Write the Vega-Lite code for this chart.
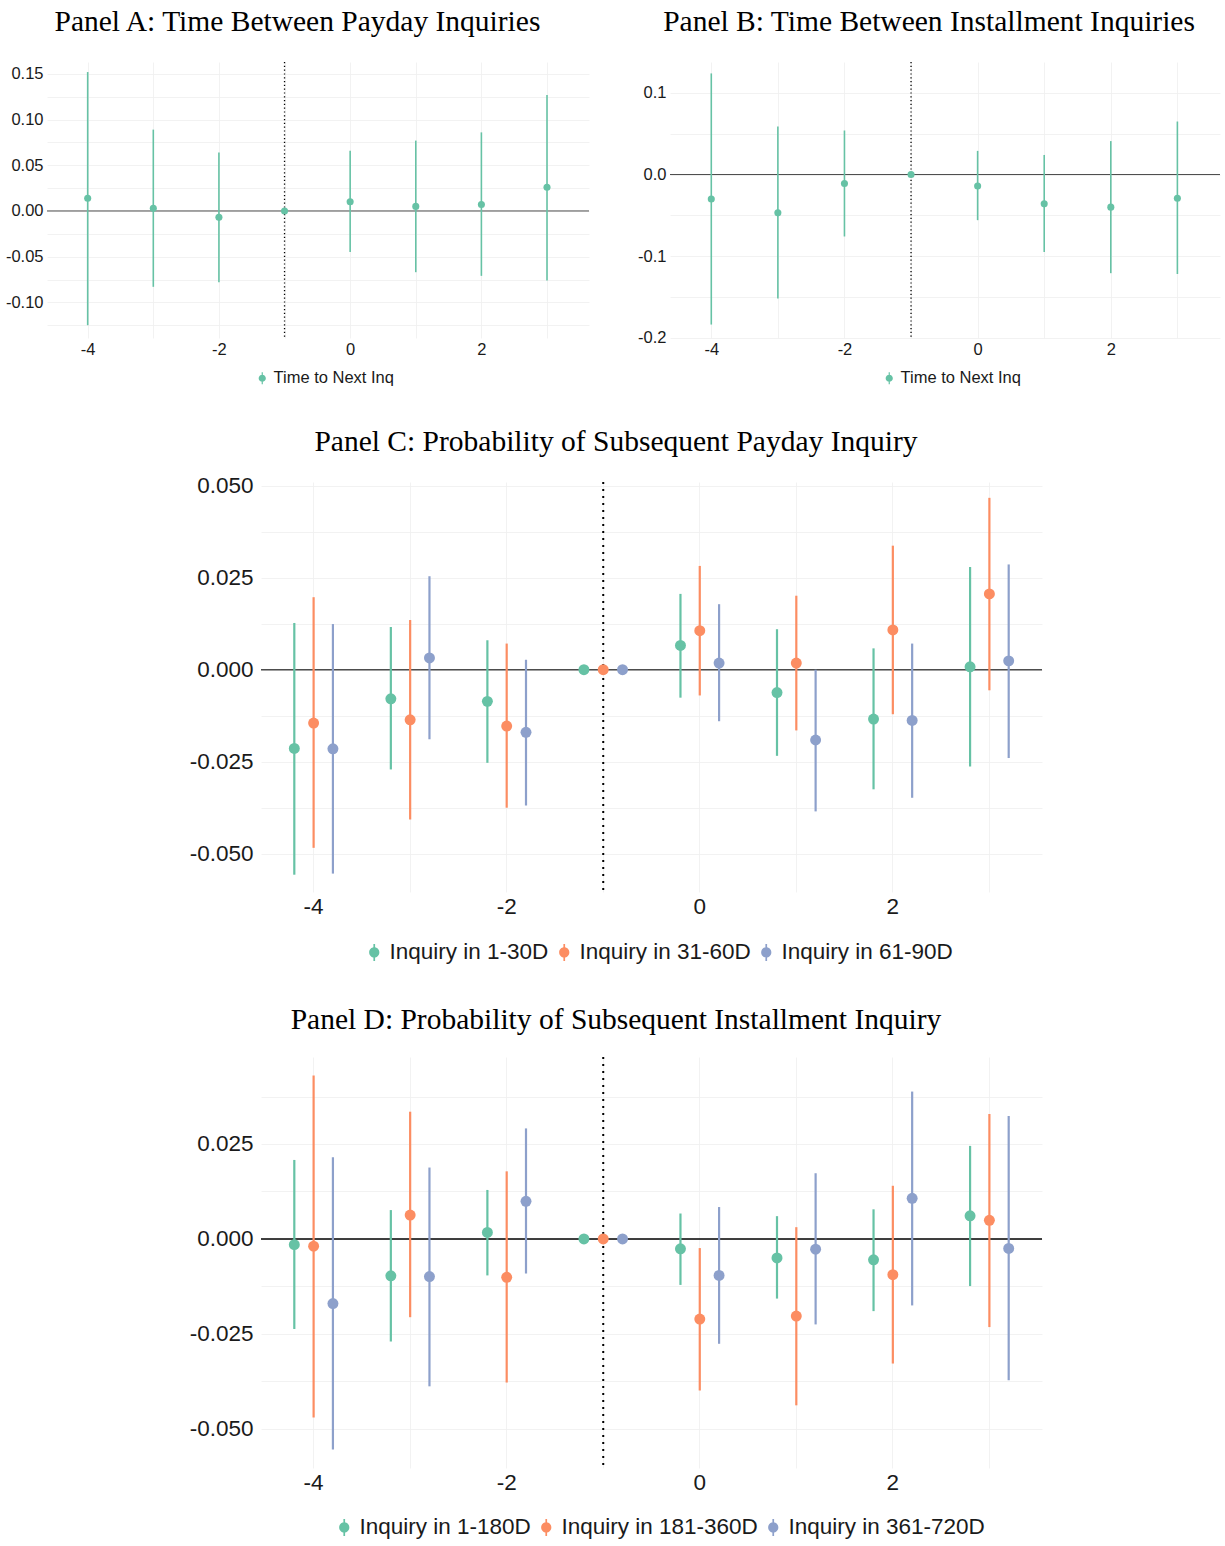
{
  "$schema": "https://vega.github.io/schema/vega-lite/v6.json",
  "background": "white",
  "padding": {"left": 5, "top": 6, "right": 0, "bottom": 0},
  "spacing": 40,
  "center": false,
  "resolve": {"scale": {"x": "independent", "y": "independent", "color": "independent", "stroke": "independent", "xOffset": "independent"}, "legend": {"color": "independent"}, "axis": {"x": "independent", "y": "independent"}},
  "datasets": {
    "a": [
      {"t": -4, "s": "Time to Next Inq", "est": 0.014, "lo": -0.125, "hi": 0.152},
      {"t": -3, "s": "Time to Next Inq", "est": 0.003, "lo": -0.083, "hi": 0.089},
      {"t": -2, "s": "Time to Next Inq", "est": -0.007, "lo": -0.078, "hi": 0.064},
      {"t": -1, "s": "Time to Next Inq", "est": 0.0, "lo": 0.0, "hi": 0.0},
      {"t": 0, "s": "Time to Next Inq", "est": 0.010, "lo": -0.045, "hi": 0.066},
      {"t": 1, "s": "Time to Next Inq", "est": 0.005, "lo": -0.067, "hi": 0.077},
      {"t": 2, "s": "Time to Next Inq", "est": 0.007, "lo": -0.071, "hi": 0.086},
      {"t": 3, "s": "Time to Next Inq", "est": 0.026, "lo": -0.076, "hi": 0.127}
    ],
    "b": [
      {"t": -4, "s": "Time to Next Inq", "est": -0.030, "lo": -0.184, "hi": 0.124},
      {"t": -3, "s": "Time to Next Inq", "est": -0.047, "lo": -0.152, "hi": 0.059},
      {"t": -2, "s": "Time to Next Inq", "est": -0.011, "lo": -0.076, "hi": 0.054},
      {"t": -1, "s": "Time to Next Inq", "est": 0.0, "lo": 0.0, "hi": 0.0},
      {"t": 0, "s": "Time to Next Inq", "est": -0.014, "lo": -0.056, "hi": 0.029},
      {"t": 1, "s": "Time to Next Inq", "est": -0.036, "lo": -0.095, "hi": 0.024},
      {"t": 2, "s": "Time to Next Inq", "est": -0.040, "lo": -0.121, "hi": 0.041},
      {"t": 3, "s": "Time to Next Inq", "est": -0.029, "lo": -0.122, "hi": 0.065}
    ],
    "c": [
      {"t": -4, "s": "Inquiry in 1-30D", "est": -0.0214, "lo": -0.0557, "hi": 0.0127},
      {"t": -4, "s": "Inquiry in 31-60D", "est": -0.0145, "lo": -0.0484, "hi": 0.0197},
      {"t": -4, "s": "Inquiry in 61-90D", "est": -0.0215, "lo": -0.0554, "hi": 0.0124},
      {"t": -3, "s": "Inquiry in 1-30D", "est": -0.0079, "lo": -0.0271, "hi": 0.0116},
      {"t": -3, "s": "Inquiry in 31-60D", "est": -0.0136, "lo": -0.0407, "hi": 0.0135},
      {"t": -3, "s": "Inquiry in 61-90D", "est": 0.0032, "lo": -0.0189, "hi": 0.0254},
      {"t": -2, "s": "Inquiry in 1-30D", "est": -0.0086, "lo": -0.0253, "hi": 0.0080},
      {"t": -2, "s": "Inquiry in 31-60D", "est": -0.0153, "lo": -0.0375, "hi": 0.0071},
      {"t": -2, "s": "Inquiry in 61-90D", "est": -0.0170, "lo": -0.0369, "hi": 0.0027},
      {"t": -1, "s": "Inquiry in 1-30D", "est": 0.0, "lo": 0.0, "hi": 0.0},
      {"t": -1, "s": "Inquiry in 31-60D", "est": 0.0, "lo": 0.0, "hi": 0.0},
      {"t": -1, "s": "Inquiry in 61-90D", "est": 0.0, "lo": 0.0, "hi": 0.0},
      {"t": 0, "s": "Inquiry in 1-30D", "est": 0.0066, "lo": -0.0076, "hi": 0.0206},
      {"t": 0, "s": "Inquiry in 31-60D", "est": 0.0106, "lo": -0.0070, "hi": 0.0282},
      {"t": 0, "s": "Inquiry in 61-90D", "est": 0.0018, "lo": -0.0140, "hi": 0.0178},
      {"t": 1, "s": "Inquiry in 1-30D", "est": -0.0062, "lo": -0.0234, "hi": 0.0110},
      {"t": 1, "s": "Inquiry in 31-60D", "est": 0.0018, "lo": -0.0165, "hi": 0.0201},
      {"t": 1, "s": "Inquiry in 61-90D", "est": -0.0191, "lo": -0.0385, "hi": 0.0000},
      {"t": 2, "s": "Inquiry in 1-30D", "est": -0.0134, "lo": -0.0325, "hi": 0.0058},
      {"t": 2, "s": "Inquiry in 31-60D", "est": 0.0108, "lo": -0.0121, "hi": 0.0337},
      {"t": 2, "s": "Inquiry in 61-90D", "est": -0.0138, "lo": -0.0348, "hi": 0.0071},
      {"t": 3, "s": "Inquiry in 1-30D", "est": 0.0008, "lo": -0.0263, "hi": 0.0279},
      {"t": 3, "s": "Inquiry in 31-60D", "est": 0.0206, "lo": -0.0056, "hi": 0.0467},
      {"t": 3, "s": "Inquiry in 61-90D", "est": 0.0024, "lo": -0.0240, "hi": 0.0286}
    ],
    "d": [
      {"t": -4, "s": "Inquiry in 1-180D", "est": -0.0015, "lo": -0.0237, "hi": 0.0208},
      {"t": -4, "s": "Inquiry in 181-360D", "est": -0.0019, "lo": -0.0470, "hi": 0.0430},
      {"t": -4, "s": "Inquiry in 361-720D", "est": -0.0170, "lo": -0.0554, "hi": 0.0215},
      {"t": -3, "s": "Inquiry in 1-180D", "est": -0.0097, "lo": -0.0270, "hi": 0.0076},
      {"t": -3, "s": "Inquiry in 181-360D", "est": 0.0063, "lo": -0.0206, "hi": 0.0335},
      {"t": -3, "s": "Inquiry in 361-720D", "est": -0.0099, "lo": -0.0388, "hi": 0.0188},
      {"t": -2, "s": "Inquiry in 1-180D", "est": 0.0017, "lo": -0.0096, "hi": 0.0129},
      {"t": -2, "s": "Inquiry in 181-360D", "est": -0.0101, "lo": -0.0378, "hi": 0.0178},
      {"t": -2, "s": "Inquiry in 361-720D", "est": 0.0099, "lo": -0.0091, "hi": 0.0291},
      {"t": -1, "s": "Inquiry in 1-180D", "est": 0.0, "lo": 0.0, "hi": 0.0},
      {"t": -1, "s": "Inquiry in 181-360D", "est": 0.0, "lo": 0.0, "hi": 0.0},
      {"t": -1, "s": "Inquiry in 361-720D", "est": 0.0, "lo": 0.0, "hi": 0.0},
      {"t": 0, "s": "Inquiry in 1-180D", "est": -0.0026, "lo": -0.0121, "hi": 0.0067},
      {"t": 0, "s": "Inquiry in 181-360D", "est": -0.0211, "lo": -0.0399, "hi": -0.0024},
      {"t": 0, "s": "Inquiry in 361-720D", "est": -0.0096, "lo": -0.0276, "hi": 0.0084},
      {"t": 1, "s": "Inquiry in 1-180D", "est": -0.0050, "lo": -0.0157, "hi": 0.0060},
      {"t": 1, "s": "Inquiry in 181-360D", "est": -0.0203, "lo": -0.0438, "hi": 0.0031},
      {"t": 1, "s": "Inquiry in 361-720D", "est": -0.0027, "lo": -0.0225, "hi": 0.0173},
      {"t": 2, "s": "Inquiry in 1-180D", "est": -0.0055, "lo": -0.0190, "hi": 0.0078},
      {"t": 2, "s": "Inquiry in 181-360D", "est": -0.0094, "lo": -0.0328, "hi": 0.0140},
      {"t": 2, "s": "Inquiry in 361-720D", "est": 0.0107, "lo": -0.0175, "hi": 0.0388},
      {"t": 3, "s": "Inquiry in 1-180D", "est": 0.0061, "lo": -0.0124, "hi": 0.0245},
      {"t": 3, "s": "Inquiry in 181-360D", "est": 0.0049, "lo": -0.0232, "hi": 0.0329},
      {"t": 3, "s": "Inquiry in 361-720D", "est": -0.0025, "lo": -0.0372, "hi": 0.0324}
    ]
  },
  "vconcat": [
    {
      "spacing": 47,
      "resolve": {"scale": {"x": "independent", "y": "independent", "color": "independent"}, "legend": {"color": "independent"}, "axis": {"x": "independent", "y": "independent"}},
      "hconcat": [
        {
          "title": {"text": "Panel A: Time Between Payday Inquiries"},
          "width": 542,
          "height": 276,
          "layer": [
            {
              "data": {"values": [{}]},
              "mark": {"type": "rule", "color": "#4D4D4D", "strokeWidth": 1},
              "encoding": {"y": {"datum": 0, "type": "quantitative", "scale": {"domain": [-0.139, 0.163], "nice": false, "zero": false}, "axis": {"title": null, "values": [-0.125, -0.1, -0.075, -0.05, -0.025, 0, 0.025, 0.05, 0.075, 0.1, 0.125, 0.15], "labelExpr": "abs(datum.value*20 - round(datum.value*20)) < 0.001 ? replace(format(datum.value, '.2f'), '\u2212', '-') : ''", "labelFontSize": 16.5, "labelPadding": 4}}}
            },
            {
              "data": {"values": [{}]},
              "mark": {"type": "rule", "color": "#000000", "strokeWidth": 1.3, "strokeDash": [1.2, 2.6]},
              "encoding": {"x": {"datum": -1, "type": "quantitative", "scale": {"domain": [-4.62, 3.64], "nice": false, "zero": false}, "axis": {"title": null, "values": [-4, -3, -2, -1, 0, 1, 2, 3], "labelExpr": "datum.value % 2 == 0 ? replace(format(datum.value, 'd'), '\u2212', '-') : ''", "labelFontSize": 16.5, "labelPadding": 3}}}
            },
            {
              "data": {"name": "a"},
              "mark": {"type": "rule", "strokeWidth": 1.6, "color": "#66C2A5"},
              "encoding": {
                "x": {"field": "t", "type": "quantitative", "scale": {"domain": [-4.62, 3.64], "nice": false, "zero": false}, "axis": {"title": null, "values": [-4, -3, -2, -1, 0, 1, 2, 3], "labelExpr": "datum.value % 2 == 0 ? replace(format(datum.value, 'd'), '\u2212', '-') : ''", "labelFontSize": 16.5, "labelPadding": 3}},
                "y": {"field": "lo", "type": "quantitative", "scale": {"domain": [-0.139, 0.163], "nice": false, "zero": false}, "axis": {"title": null, "values": [-0.125, -0.1, -0.075, -0.05, -0.025, 0, 0.025, 0.05, 0.075, 0.1, 0.125, 0.15], "labelExpr": "abs(datum.value*20 - round(datum.value*20)) < 0.001 ? replace(format(datum.value, '.2f'), '\u2212', '-') : ''", "labelFontSize": 16.5, "labelPadding": 4}},
                "y2": {"field": "hi"}
              }
            },
            {
              "data": {"name": "a"},
              "mark": {"type": "point", "filled": true, "opacity": 1, "size": 50},
              "encoding": {
                "x": {"field": "t", "type": "quantitative", "scale": {"domain": [-4.62, 3.64], "nice": false, "zero": false}, "axis": {"title": null, "values": [-4, -3, -2, -1, 0, 1, 2, 3], "labelExpr": "datum.value % 2 == 0 ? replace(format(datum.value, 'd'), '\u2212', '-') : ''", "labelFontSize": 16.5, "labelPadding": 3}},
                "y": {"field": "est", "type": "quantitative", "scale": {"domain": [-0.139, 0.163], "nice": false, "zero": false}, "axis": {"title": null, "values": [-0.125, -0.1, -0.075, -0.05, -0.025, 0, 0.025, 0.05, 0.075, 0.1, 0.125, 0.15], "labelExpr": "abs(datum.value*20 - round(datum.value*20)) < 0.001 ? replace(format(datum.value, '.2f'), '\u2212', '-') : ''", "labelFontSize": 16.5, "labelPadding": 4}},
                "color": {"field": "s", "type": "nominal", "scale": {"domain": ["Time to Next Inq"], "range": ["#66C2A5"]}, "legend": {"title": null, "orient": "none", "legendX": 207, "legendY": 308, "direction": "horizontal", "labelFontSize": 16.5, "labelLimit": 0, "labelOffset": 3, "padding": 0, "symbolSize": 144, "symbolStrokeWidth": 0, "symbolOpacity": 1, "symbolType": "M-0.1,-1H0.1V1H-0.1Z M0.6,0A0.6,0.6 0 1,1 -0.6,0A0.6,0.6 0 1,1 0.6,0Z"}}
              }
            }
          ]
        },
        {
          "title": {"text": "Panel B: Time Between Installment Inquiries"},
          "width": 550,
          "height": 276,
          "layer": [
            {
              "data": {"values": [{}]},
              "mark": {"type": "rule", "color": "#4D4D4D", "strokeWidth": 1},
              "encoding": {"y": {"datum": 0, "type": "quantitative", "scale": {"domain": [-0.2005, 0.138], "nice": false, "zero": false}, "axis": {"title": null, "values": [-0.2, -0.15, -0.1, -0.05, 0, 0.05, 0.1], "labelExpr": "abs(datum.value*10 - round(datum.value*10)) < 0.001 ? replace(format(datum.value, '.1f'), '\u2212', '-') : ''", "labelFontSize": 16.5, "labelPadding": 4}}}
            },
            {
              "data": {"values": [{}]},
              "mark": {"type": "rule", "color": "#000000", "strokeWidth": 1.3, "strokeDash": [1.2, 2.6]},
              "encoding": {"x": {"datum": -1, "type": "quantitative", "scale": {"domain": [-4.62, 3.64], "nice": false, "zero": false}, "axis": {"title": null, "values": [-4, -3, -2, -1, 0, 1, 2, 3], "labelExpr": "datum.value % 2 == 0 ? replace(format(datum.value, 'd'), '\u2212', '-') : ''", "labelFontSize": 16.5, "labelPadding": 3}}}
            },
            {
              "data": {"name": "b"},
              "mark": {"type": "rule", "strokeWidth": 1.6, "color": "#66C2A5"},
              "encoding": {
                "x": {"field": "t", "type": "quantitative", "scale": {"domain": [-4.62, 3.64], "nice": false, "zero": false}, "axis": {"title": null, "values": [-4, -3, -2, -1, 0, 1, 2, 3], "labelExpr": "datum.value % 2 == 0 ? replace(format(datum.value, 'd'), '\u2212', '-') : ''", "labelFontSize": 16.5, "labelPadding": 3}},
                "y": {"field": "lo", "type": "quantitative", "scale": {"domain": [-0.2005, 0.138], "nice": false, "zero": false}, "axis": {"title": null, "values": [-0.2, -0.15, -0.1, -0.05, 0, 0.05, 0.1], "labelExpr": "abs(datum.value*10 - round(datum.value*10)) < 0.001 ? replace(format(datum.value, '.1f'), '\u2212', '-') : ''", "labelFontSize": 16.5, "labelPadding": 4}},
                "y2": {"field": "hi"}
              }
            },
            {
              "data": {"name": "b"},
              "mark": {"type": "point", "filled": true, "opacity": 1, "size": 50},
              "encoding": {
                "x": {"field": "t", "type": "quantitative", "scale": {"domain": [-4.62, 3.64], "nice": false, "zero": false}, "axis": {"title": null, "values": [-4, -3, -2, -1, 0, 1, 2, 3], "labelExpr": "datum.value % 2 == 0 ? replace(format(datum.value, 'd'), '\u2212', '-') : ''", "labelFontSize": 16.5, "labelPadding": 3}},
                "y": {"field": "est", "type": "quantitative", "scale": {"domain": [-0.2005, 0.138], "nice": false, "zero": false}, "axis": {"title": null, "values": [-0.2, -0.15, -0.1, -0.05, 0, 0.05, 0.1], "labelExpr": "abs(datum.value*10 - round(datum.value*10)) < 0.001 ? replace(format(datum.value, '.1f'), '\u2212', '-') : ''", "labelFontSize": 16.5, "labelPadding": 4}},
                "color": {"field": "s", "type": "nominal", "scale": {"domain": ["Time to Next Inq"], "range": ["#66C2A5"]}, "legend": {"title": null, "orient": "none", "legendX": 211, "legendY": 308, "direction": "horizontal", "labelFontSize": 16.5, "labelLimit": 0, "labelOffset": 3, "padding": 0, "symbolSize": 144, "symbolStrokeWidth": 0, "symbolOpacity": 1, "symbolType": "M-0.1,-1H0.1V1H-0.1Z M0.6,0A0.6,0.6 0 1,1 -0.6,0A0.6,0.6 0 1,1 0.6,0Z"}}
              }
            }
          ]
        }
      ]
    },
    {
      "spacing": 140,
      "resolve": {"scale": {"x": "independent", "y": "independent", "color": "independent", "stroke": "independent", "xOffset": "independent"}, "legend": {"color": "independent"}, "axis": {"x": "independent", "y": "independent"}},
      "hconcat": [
        {"width": 2, "height": 1, "data": {"values": []}, "mark": "point"},
        {
          "title": {"text": "Panel C: Probability of Subsequent Payday Inquiry", "offset": 17},
          "width": 781,
          "height": 410,
          "layer": [
            {
              "data": {"values": [{}]},
              "mark": {"type": "rule", "color": "#4D4D4D", "strokeWidth": 1.4},
              "encoding": {"y": {"datum": 0, "type": "quantitative", "scale": {"domain": [-0.0604, 0.051], "nice": false, "zero": false}, "axis": {"title": null, "values": [-0.05, -0.0375, -0.025, -0.0125, 0, 0.0125, 0.025, 0.0375, 0.05], "labelExpr": "abs(datum.value*40 - round(datum.value*40)) < 0.001 ? replace(format(datum.value, '.3f'), '\u2212', '-') : ''", "labelFontSize": 22.5, "labelPadding": 8}}}
            },
            {
              "data": {"values": [{}]},
              "mark": {"type": "rule", "color": "#000000", "strokeWidth": 2, "strokeDash": [2, 5]},
              "encoding": {"x": {"datum": -1, "type": "ordinal", "scale": {"type": "band", "domain": [-4, -3, -2, -1, 0, 1, 2, 3], "paddingInner": 0, "paddingOuter": 0.045}, "axis": {"title": null, "values": [-4, -3, -2, -1, 0, 1, 2, 3], "labelExpr": "datum.value % 2 == 0 ? datum.label : ''", "labelFontSize": 22.5, "labelPadding": 3, "labelAngle": 0, "bandPosition": 0.5, "grid": true}}}
            },
            {
              "data": {"name": "c"},
              "mark": {"type": "rule", "strokeWidth": 2.2},
              "encoding": {
                "x": {"field": "t", "type": "ordinal", "scale": {"type": "band", "domain": [-4, -3, -2, -1, 0, 1, 2, 3], "paddingInner": 0, "paddingOuter": 0.045}, "axis": {"title": null, "values": [-4, -3, -2, -1, 0, 1, 2, 3], "labelExpr": "datum.value % 2 == 0 ? datum.label : ''", "labelFontSize": 22.5, "labelPadding": 3, "labelAngle": 0, "bandPosition": 0.5, "grid": true}},
                "xOffset": {"field": "s", "type": "nominal", "scale": {"domain": ["Inquiry in 1-30D", "Inquiry in 31-60D", "Inquiry in 61-90D"], "paddingInner": 0, "paddingOuter": 1.5}},
                "y": {"field": "lo", "type": "quantitative", "scale": {"domain": [-0.0604, 0.051], "nice": false, "zero": false}, "axis": {"title": null, "values": [-0.05, -0.0375, -0.025, -0.0125, 0, 0.0125, 0.025, 0.0375, 0.05], "labelExpr": "abs(datum.value*40 - round(datum.value*40)) < 0.001 ? replace(format(datum.value, '.3f'), '\u2212', '-') : ''", "labelFontSize": 22.5, "labelPadding": 8}},
                "y2": {"field": "hi"},
                "stroke": {"field": "s", "type": "nominal", "scale": {"domain": ["Inquiry in 61-90D", "Inquiry in 31-60D", "Inquiry in 1-30D"], "range": ["#8DA0CB", "#FC8D62", "#66C2A5"]}, "legend": null}
              }
            },
            {
              "data": {"name": "c"},
              "mark": {"type": "point", "filled": true, "opacity": 1, "size": 120},
              "encoding": {
                "x": {"field": "t", "type": "ordinal", "scale": {"type": "band", "domain": [-4, -3, -2, -1, 0, 1, 2, 3], "paddingInner": 0, "paddingOuter": 0.045}, "axis": {"title": null, "values": [-4, -3, -2, -1, 0, 1, 2, 3], "labelExpr": "datum.value % 2 == 0 ? datum.label : ''", "labelFontSize": 22.5, "labelPadding": 3, "labelAngle": 0, "bandPosition": 0.5, "grid": true}},
                "xOffset": {"field": "s", "type": "nominal", "scale": {"domain": ["Inquiry in 1-30D", "Inquiry in 31-60D", "Inquiry in 61-90D"], "paddingInner": 0, "paddingOuter": 1.5}},
                "y": {"field": "est", "type": "quantitative", "scale": {"domain": [-0.0604, 0.051], "nice": false, "zero": false}, "axis": {"title": null, "values": [-0.05, -0.0375, -0.025, -0.0125, 0, 0.0125, 0.025, 0.0375, 0.05], "labelExpr": "abs(datum.value*40 - round(datum.value*40)) < 0.001 ? replace(format(datum.value, '.3f'), '\u2212', '-') : ''", "labelFontSize": 22.5, "labelPadding": 8}},
                "color": {"field": "s", "type": "nominal", "scale": {"domain": ["Inquiry in 1-30D", "Inquiry in 31-60D", "Inquiry in 61-90D"], "range": ["#66C2A5", "#FC8D62", "#8DA0CB"]}, "legend": {"title": null, "orient": "none", "legendX": 102, "legendY": 459, "direction": "horizontal", "labelFontSize": 22.5, "labelLimit": 0, "labelOffset": 4, "columnPadding": 4, "padding": 0, "symbolSize": 289, "symbolStrokeWidth": 0, "symbolOpacity": 1, "symbolType": "M-0.1,-1H0.1V1H-0.1Z M0.6,0A0.6,0.6 0 1,1 -0.6,0A0.6,0.6 0 1,1 0.6,0Z"}}
              }
            }
          ]
        }
      ]
    },
    {
      "spacing": 140,
      "resolve": {"scale": {"x": "independent", "y": "independent", "color": "independent", "stroke": "independent", "xOffset": "independent"}, "legend": {"color": "independent"}, "axis": {"x": "independent", "y": "independent"}},
      "hconcat": [
        {"width": 2, "height": 1, "data": {"values": []}, "mark": "point"},
        {
          "title": {"text": "Panel D: Probability of Subsequent Installment Inquiry", "offset": 21},
          "width": 781,
          "height": 411,
          "layer": [
            {
              "data": {"values": [{}]},
              "mark": {"type": "rule", "color": "#000000", "strokeWidth": 1.4},
              "encoding": {"y": {"datum": 0, "type": "quantitative", "scale": {"domain": [-0.0603, 0.0479], "nice": false, "zero": false}, "axis": {"title": null, "values": [-0.05, -0.0375, -0.025, -0.0125, 0, 0.0125, 0.025, 0.0375], "labelExpr": "abs(datum.value*40 - round(datum.value*40)) < 0.001 ? replace(format(datum.value, '.3f'), '\u2212', '-') : ''", "labelFontSize": 22.5, "labelPadding": 8}}}
            },
            {
              "data": {"values": [{}]},
              "mark": {"type": "rule", "color": "#000000", "strokeWidth": 2, "strokeDash": [2, 5]},
              "encoding": {"x": {"datum": -1, "type": "ordinal", "scale": {"type": "band", "domain": [-4, -3, -2, -1, 0, 1, 2, 3], "paddingInner": 0, "paddingOuter": 0.045}, "axis": {"title": null, "values": [-4, -3, -2, -1, 0, 1, 2, 3], "labelExpr": "datum.value % 2 == 0 ? datum.label : ''", "labelFontSize": 22.5, "labelPadding": 3, "labelAngle": 0, "bandPosition": 0.5, "grid": true}}}
            },
            {
              "data": {"name": "d"},
              "mark": {"type": "rule", "strokeWidth": 2.2},
              "encoding": {
                "x": {"field": "t", "type": "ordinal", "scale": {"type": "band", "domain": [-4, -3, -2, -1, 0, 1, 2, 3], "paddingInner": 0, "paddingOuter": 0.045}, "axis": {"title": null, "values": [-4, -3, -2, -1, 0, 1, 2, 3], "labelExpr": "datum.value % 2 == 0 ? datum.label : ''", "labelFontSize": 22.5, "labelPadding": 3, "labelAngle": 0, "bandPosition": 0.5, "grid": true}},
                "xOffset": {"field": "s", "type": "nominal", "scale": {"domain": ["Inquiry in 1-180D", "Inquiry in 181-360D", "Inquiry in 361-720D"], "paddingInner": 0, "paddingOuter": 1.5}},
                "y": {"field": "lo", "type": "quantitative", "scale": {"domain": [-0.0603, 0.0479], "nice": false, "zero": false}, "axis": {"title": null, "values": [-0.05, -0.0375, -0.025, -0.0125, 0, 0.0125, 0.025, 0.0375], "labelExpr": "abs(datum.value*40 - round(datum.value*40)) < 0.001 ? replace(format(datum.value, '.3f'), '\u2212', '-') : ''", "labelFontSize": 22.5, "labelPadding": 8}},
                "y2": {"field": "hi"},
                "stroke": {"field": "s", "type": "nominal", "scale": {"domain": ["Inquiry in 361-720D", "Inquiry in 181-360D", "Inquiry in 1-180D"], "range": ["#8DA0CB", "#FC8D62", "#66C2A5"]}, "legend": null}
              }
            },
            {
              "data": {"name": "d"},
              "mark": {"type": "point", "filled": true, "opacity": 1, "size": 120},
              "encoding": {
                "x": {"field": "t", "type": "ordinal", "scale": {"type": "band", "domain": [-4, -3, -2, -1, 0, 1, 2, 3], "paddingInner": 0, "paddingOuter": 0.045}, "axis": {"title": null, "values": [-4, -3, -2, -1, 0, 1, 2, 3], "labelExpr": "datum.value % 2 == 0 ? datum.label : ''", "labelFontSize": 22.5, "labelPadding": 3, "labelAngle": 0, "bandPosition": 0.5, "grid": true}},
                "xOffset": {"field": "s", "type": "nominal", "scale": {"domain": ["Inquiry in 1-180D", "Inquiry in 181-360D", "Inquiry in 361-720D"], "paddingInner": 0, "paddingOuter": 1.5}},
                "y": {"field": "est", "type": "quantitative", "scale": {"domain": [-0.0603, 0.0479], "nice": false, "zero": false}, "axis": {"title": null, "values": [-0.05, -0.0375, -0.025, -0.0125, 0, 0.0125, 0.025, 0.0375], "labelExpr": "abs(datum.value*40 - round(datum.value*40)) < 0.001 ? replace(format(datum.value, '.3f'), '\u2212', '-') : ''", "labelFontSize": 22.5, "labelPadding": 8}},
                "color": {"field": "s", "type": "nominal", "scale": {"domain": ["Inquiry in 1-180D", "Inquiry in 181-360D", "Inquiry in 361-720D"], "range": ["#66C2A5", "#FC8D62", "#8DA0CB"]}, "legend": {"title": null, "orient": "none", "legendX": 72, "legendY": 459, "direction": "horizontal", "labelFontSize": 22.5, "labelLimit": 0, "labelOffset": 4, "columnPadding": 4, "padding": 0, "symbolSize": 289, "symbolStrokeWidth": 0, "symbolOpacity": 1, "symbolType": "M-0.1,-1H0.1V1H-0.1Z M0.6,0A0.6,0.6 0 1,1 -0.6,0A0.6,0.6 0 1,1 0.6,0Z"}}
              }
            }
          ]
        }
      ]
    }
  ],
  "config": {
    "view": {"stroke": null},
    "font": "Liberation Sans",
    "title": {"font": "Liberation Serif", "fontSize": 29.5, "fontWeight": "normal", "color": "#000000", "anchor": "middle", "frame": "bounds", "offset": 24},
    "axis": {"ticks": false, "domain": false, "grid": true, "gridColor": "#EFEFEF", "gridWidth": 0.8, "labelFont": "Liberation Sans", "labelColor": "#1A1A1A", "labelOverlap": false},
    "legend": {"labelFont": "Liberation Sans", "labelColor": "#1A1A1A"}
  }
}
